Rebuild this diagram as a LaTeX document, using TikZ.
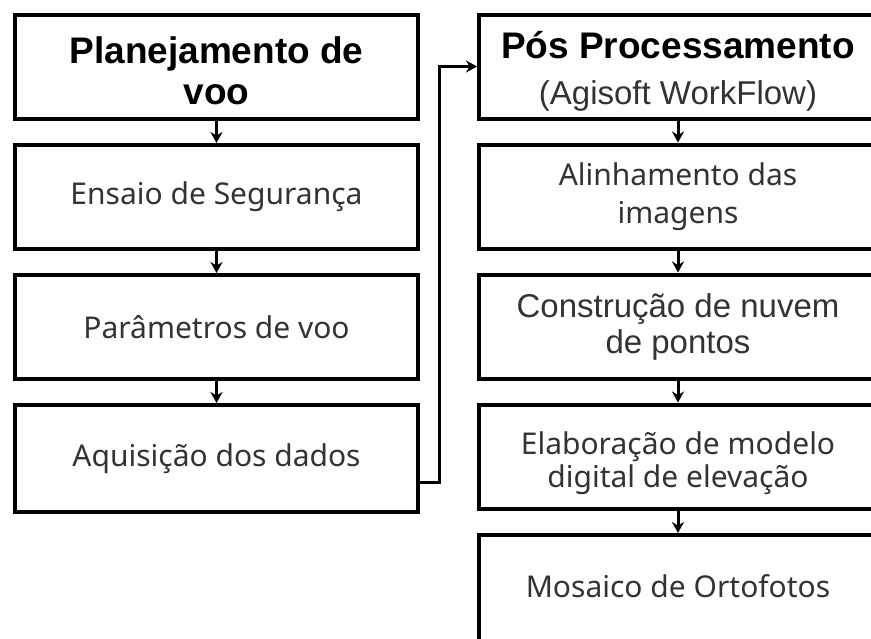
\documentclass[tikz,border=0pt]{standalone}
\usepackage{fontspec}
\setmainfont{Noto Sans}
\newfontfamily\arialfont{Liberation Sans}
\usetikzlibrary{arrows.meta}
\definecolor{textGrey}{HTML}{333333}

\begin{document}
\begin{tikzpicture}[x=1pt, y=1pt,
    stepBox/.style={rectangle, draw, line width=4pt, inner sep=0pt, align=center, text=textGrey, font=\fontsize{30}{38}\selectfont},
    leftBox/.style={stepBox, minimum width=403pt, minimum height=104pt},
    rightBox/.style={stepBox, minimum width=398pt, minimum height=104pt},
    titleFont/.style={text=black, font=\arialfont\bfseries\fontsize{37}{41}\selectfont},
    arialFont/.style={font=\arialfont\fontsize{33}{36}\selectfont},
    tightFont/.style={font=\fontsize{30}{33}\selectfont},
    flowArrow/.style={line width=3pt, -{Stealth[length=11pt, width=12pt]}}]
    \useasboundingbox (0,0) rectangle (871,-638);

    % left column
    \node[leftBox, titleFont] (plan)   at (216.5, -66.5) {\rule{0pt}{36pt}Planejamento de\\voo};
    \node[leftBox]            (ensaio) at (216.5, -197)  {Ensaio de Segurança};
    \node[leftBox]            (param)  at (216.5, -327)  {Parâmetros de voo};
    \node[leftBox, minimum height=107pt] (aquis) at (216.5, -458.5) {Aquisição dos dados};

    % right column
    \node[rightBox, titleFont] (pos)    at (678, -66.5)  {\rule{0pt}{36pt}Pós Processamento\\[5pt]{\mdseries\fontsize{33}{39}\selectfont\color{textGrey}(Agisoft WorkFlow)}};
    \node[rightBox]            (alin)   at (678, -196.5) {Alinhamento das\\imagens};
    \node[rightBox, arialFont] (constr) at (678, -326.5) {Construção de nuvem\\de pontos};
    \node[rightBox, tightFont] (elab)   at (678, -456.5) {\rule{0pt}{36pt}Elaboração de modelo\\digital de elevação};
    \node[rightBox, minimum height=125pt] (mosaic) at (678, -597.5) {\raisebox{22pt}{Mosaico de Ortofotos}};

    \draw[flowArrow] (plan) -- (ensaio);
    \draw[flowArrow] (ensaio) -- (param);
    \draw[flowArrow] (param) -- (aquis);

    \draw[flowArrow] (pos) -- (alin);
    \draw[flowArrow] (alin) -- (constr);
    \draw[flowArrow] (constr) -- (elab);
    \draw[flowArrow] (elab) -- (mosaic);

    \draw[flowArrow] ([yshift=-24pt]aquis.east) -- ++(19,0) |- (pos.west);
\end{tikzpicture}
\end{document}
